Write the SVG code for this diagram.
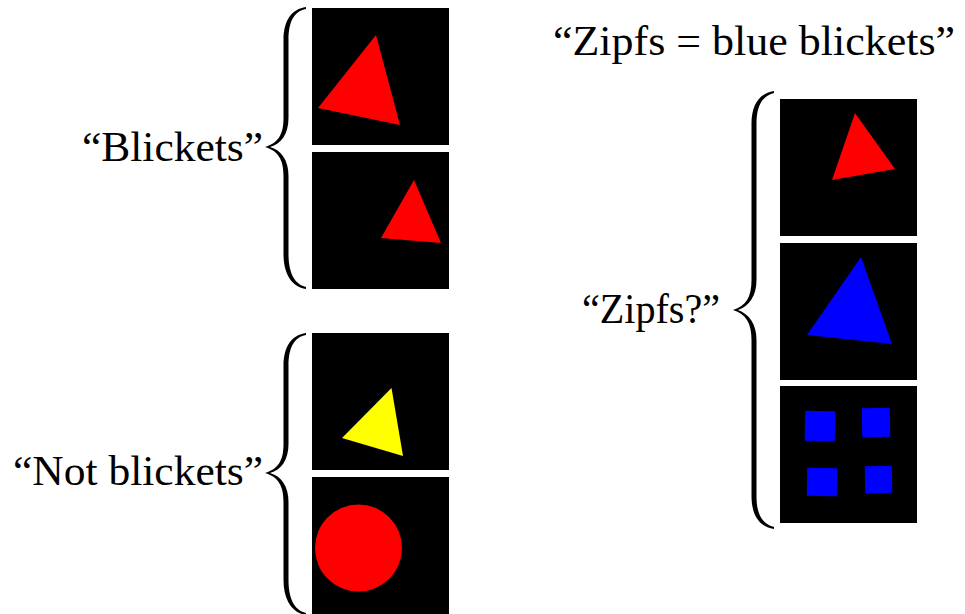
<svg xmlns="http://www.w3.org/2000/svg" width="965" height="614" viewBox="0 0 965 614">
  <style>
    .label { font-family: "Liberation Serif", "Times New Roman", serif; font-size: 43px; fill: #000; }
    .panel { fill: #000; }
    .brace { fill: #000; }
    .red { fill: #ff0000; }
    .yellow { fill: #ffff00; }
    .blue { fill: #0000ff; }
  </style>
  <defs>
    <!-- brace spanning roughly 282px, tip pointing left -->
    <path id="braceShort" d="M306,7 C292,9 283.5,20 283.5,40 L283.5,118 C283.5,135 278,143 265,147 C278,151 283.5,159 283.5,176 L283.5,254 C283.5,274 292,287 306,289 L306,287 C294,284 288.5,272 288.5,254 L288.5,176 C288.5,160 281,150 270,147 C281,144 288.5,134 288.5,118 L288.5,40 C288.5,22 294,11 306,9 Z"/>
  </defs>

  <!-- top-left group: blickets -->
  <g id="blickets">
    <text class="label" x="82" y="161" textLength="181" lengthAdjust="spacingAndGlyphs">“Blickets”</text>
    <use href="#braceShort" class="brace"/>
    <g id="blicket-1">
      <rect class="panel" x="312" y="8" width="137" height="137"/>
      <polygon class="red" points="376,35 318,108 400,125"/>
    </g>
    <g id="blicket-2">
      <rect class="panel" x="312" y="152" width="137" height="137"/>
      <polygon class="red" points="414,180 381,238 441,243"/>
    </g>
  </g>

  <!-- bottom-left group: not blickets -->
  <g id="not-blickets">
    <text class="label" x="13" y="485" textLength="250" lengthAdjust="spacingAndGlyphs">“Not blickets”</text>
    <use href="#braceShort" class="brace" transform="translate(0,326)"/>
    <g id="not-blicket-1">
      <rect class="panel" x="312" y="333" width="137" height="137"/>
      <polygon class="yellow" points="391.5,388 342,438 403,456"/>
    </g>
    <g id="not-blicket-2">
      <rect class="panel" x="312" y="477" width="137" height="137"/>
      <circle class="red" cx="358.5" cy="548" r="43.5"/>
    </g>
  </g>

  <!-- right group: zipfs -->
  <g id="zipfs">
    <text class="label" x="553" y="55" textLength="402" lengthAdjust="spacingAndGlyphs">“Zipfs = blue blickets”</text>
    <text class="label" x="582" y="323" textLength="138" lengthAdjust="spacingAndGlyphs">“Zipfs?”</text>
    <path class="brace" d="M774,91 C760,93 751.5,104 751.5,124 L751.5,280 C751.5,297 746,306 733,310 C746,314 751.5,323 751.5,340 L751.5,496 C751.5,516 760,527 774,529 L774,527 C762,524 756.5,514 756.5,496 L756.5,340 C756.5,324 749,314 738,310 C749,306 756.5,296 756.5,280 L756.5,124 C756.5,106 762,96 774,93 Z"/>
    <g id="zipf-1">
      <rect class="panel" x="780" y="99" width="137" height="137"/>
      <polygon class="red" points="855,113 832,180 895,169"/>
    </g>
    <g id="zipf-2">
      <rect class="panel" x="780" y="243" width="137" height="137"/>
      <polygon class="blue" points="861,257 807,335 892,344"/>
    </g>
    <g id="zipf-3">
      <rect class="panel" x="780" y="386" width="137" height="137"/>
      <rect class="blue" x="805" y="411" width="30" height="30" transform="rotate(1 820 426)"/>
      <rect class="blue" x="862" y="408" width="28" height="29" transform="rotate(-1 876 422)"/>
      <rect class="blue" x="807" y="468" width="30" height="28" transform="rotate(1 822 482)"/>
      <rect class="blue" x="865" y="466" width="27" height="27" transform="rotate(-1 878 480)"/>
    </g>
  </g>
</svg>
